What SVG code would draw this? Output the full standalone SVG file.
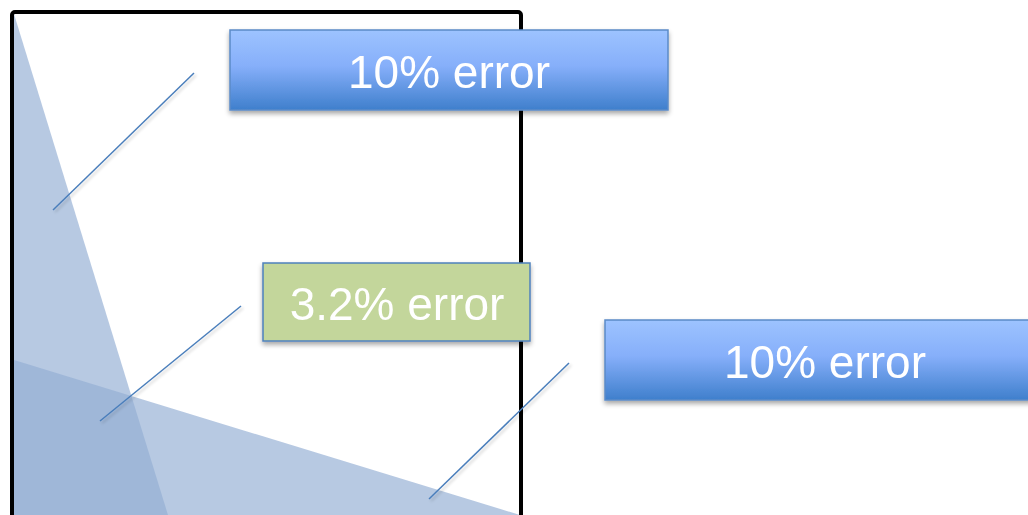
<svg xmlns="http://www.w3.org/2000/svg" width="1028" height="515" viewBox="0 0 1028 515">
<defs>
<linearGradient id="blueGrad" x1="0" y1="0" x2="0" y2="1">
<stop offset="0" stop-color="#9dc3ff"/>
<stop offset="0.45" stop-color="#86affa"/>
<stop offset="1" stop-color="#3f7fcc"/>
</linearGradient>
<filter id="shadow" x="-10%" y="-20%" width="120%" height="150%">
<feGaussianBlur in="SourceAlpha" stdDeviation="2.5"/>
<feOffset dx="0" dy="3" result="b"/>
<feComponentTransfer><feFuncA type="linear" slope="0.35"/></feComponentTransfer>
<feMerge><feMergeNode/><feMergeNode in="SourceGraphic"/></feMerge>
</filter>
<filter id="lshadow" x="-20%" y="-20%" width="140%" height="140%">
<feGaussianBlur in="SourceAlpha" stdDeviation="1.5"/>
<feOffset dx="2" dy="2"/>
<feComponentTransfer><feFuncA type="linear" slope="0.2"/></feComponentTransfer>
<feMerge><feMergeNode/><feMergeNode in="SourceGraphic"/></feMerge>
</filter>
</defs>
<style>
.tri{fill:#93aed3;fill-opacity:0.667;stroke:none}
.frame{fill:none;stroke:#000;stroke-width:4;stroke-linejoin:round}
.conn{stroke:#4a7ebb;stroke-width:1.5;fill:none}
.blue{fill:url(#blueGrad);stroke:#5b8bc8;stroke-width:1.5}
.green{fill:#c3d69b;stroke:#4f81bd;stroke-width:1.5}
.lbl{font-family:"Liberation Sans",Arial,sans-serif;font-size:46px;fill:#fff;text-anchor:middle}
</style>
<rect width="1028" height="515" fill="#fff"/>
<g id="regions">
<polygon class="tri" points="14,14 168,515 14,515"/>
<polygon class="tri" points="14,360 520,515 14,515"/>
</g>
<rect class="frame" x="12" y="12" width="509" height="520" rx="3"/>
<g id="connectors" filter="url(#lshadow)">
<line class="conn" x1="194" y1="73" x2="53" y2="210"/>
<line class="conn" x1="241" y1="306" x2="100" y2="421"/>
<line class="conn" x1="569" y1="363" x2="429" y2="499"/>
</g>
<g id="box-top" filter="url(#shadow)">
<rect class="blue" x="230" y="30" width="438" height="80"/>
<text class="lbl" x="449" y="88">10% error</text>
</g>
<g id="box-middle" filter="url(#shadow)">
<rect class="green" x="263" y="263" width="267" height="78"/>
<text class="lbl" x="397" y="320">3.2% error</text>
</g>
<g id="box-right" filter="url(#shadow)">
<rect class="blue" x="605" y="320" width="440" height="80"/>
<text class="lbl" x="825" y="378">10% error</text>
</g>
</svg>
